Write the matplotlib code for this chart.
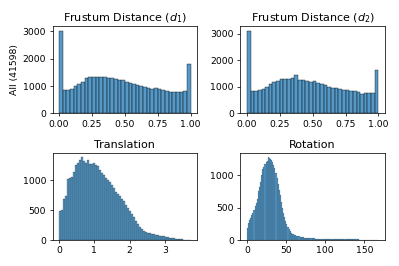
import numpy as np
import pandas as pd
import matplotlib
matplotlib.use("Agg")
import matplotlib.pyplot as plt
import seaborn as sns

# bin counts
d1_range = (0.0, 1.0)
d1_counts = [3030, 860, 860, 910, 1010, 1090, 1160, 1300, 1340,
             1320, 1350, 1340, 1330, 1310, 1290, 1250, 1240, 1225,
             1150, 1130, 1070, 1030, 990, 970, 930, 910, 945,
             895, 860, 830, 785, 770, 785, 800, 830, 1810]

d2_range = (0.0, 1.0)
d2_counts = [3120, 838, 850, 888, 938, 1000, 1100, 1188, 1213,
             1310, 1310, 1290, 1340, 1440, 1250, 1250, 1225, 1190,
             1212, 1163, 1125, 1063, 1000, 975, 975, 938, 900,
             875, 850, 838, 800, 750, 775, 775, 775, 1650]

trans_range = (0.0, 3.73)
trans_counts = [480, 505, 680, 730, 1010, 1030, 1050, 1130, 1250, 1290,
                1340, 1380, 1310, 1290, 1340, 1270, 1270, 1280, 1250, 1230,
                1170, 1120, 1080, 1040, 1000, 970, 920, 860, 800, 770,
                740, 690, 650, 580, 540, 480, 430, 390, 320, 270,
                220, 180, 150, 135, 120, 110, 100, 95, 90, 80,
                75, 68, 60, 55, 48, 40, 34, 28, 22, 18,
                14, 11, 8, 6, 4, 3]

rot_range = (0.0, 168.0)
rot_counts = [180, 270, 310, 345, 390, 420, 470, 520, 570, 640,
              760, 820, 900, 1000, 1100, 1130, 1170, 1200, 1220, 1280,
              1270, 1250, 1230, 1200, 1160, 1120, 1040, 960, 870, 780,
              700, 590, 500, 420, 360, 300, 250, 200, 165, 135,
              115, 100, 88, 80, 72, 65, 60, 55, 50, 46,
              44, 40, 38, 36, 34, 32, 30, 28, 27, 26,
              25, 24, 22, 22, 21, 20, 20, 19, 18, 18,
              17, 17, 16, 16, 15, 15, 14, 14, 14, 13,
              13, 13, 12, 12, 12, 11, 11, 11, 10, 10,
              10, 10, 9, 9, 9, 9, 8, 8, 8, 8,
              8, 8, 7, 7, 7, 7, 7, 6, 6, 6,
              6, 6, 5, 5, 5, 5, 5, 4, 4, 3]

titles = ["Frustum Distance ($d_1$)", "Frustum Distance ($d_2$)",
          "Translation", "Rotation"]
ylabel = "All (41598)"

DPI = 66.5
fig, axes = plt.subplots(2, 2, figsize=(399 / DPI, 266 / DPI), dpi=DPI)
fig.subplots_adjust(left=0.1316, right=0.965, top=0.9004, bottom=0.0977,
                    wspace=0.298, hspace=0.457)

panels = [(d1_range, d1_counts), (d2_range, d2_counts),
          (trans_range, trans_counts), (rot_range, rot_counts)]

for ax, (rng, counts), title in zip(axes.flat, panels, titles):
    edges = np.linspace(rng[0], rng[1], len(counts) + 1)
    df = pd.DataFrame({"value": (edges[:-1] + edges[1:]) / 2,
                       "count": counts})
    sns.histplot(data=df, x="value", weights="count", bins=list(edges), ax=ax)
    ax.set_title(title)
    ax.set_xlabel("")
    ax.set_ylabel("")

axes[0, 0].set_ylabel(ylabel)
axes[0, 0].set_xticks([0, 0.25, 0.5, 0.75, 1.0])
axes[0, 1].set_xticks([0, 0.25, 0.5, 0.75, 1.0])
axes[0, 0].set_yticks([0, 1000, 2000, 3000])
axes[0, 1].set_yticks([0, 1000, 2000, 3000])

fig.savefig("out.png", dpi=DPI)
